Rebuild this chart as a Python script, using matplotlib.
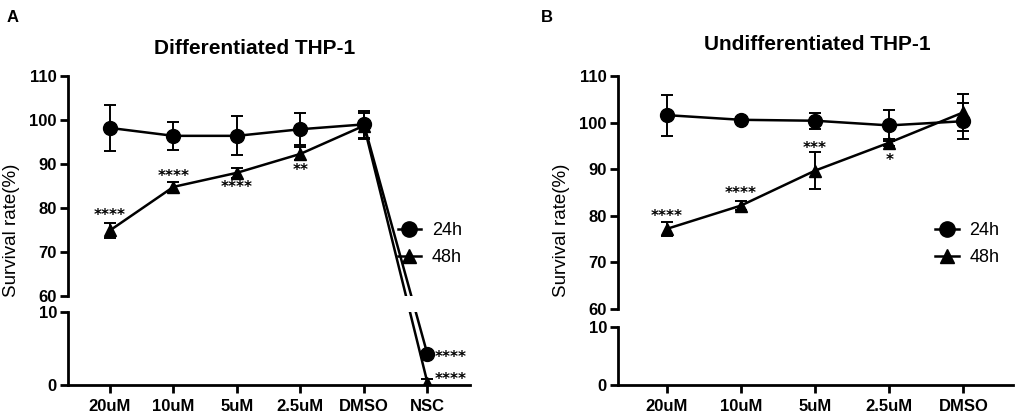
import matplotlib
matplotlib.use("Agg")
import matplotlib.pyplot as plt

plt.rcParams['font.family'] = ['Liberation Sans', 'DejaVu Sans']

# ---------------- data ----------------
cats_a = ["20uM", "10uM", "5uM", "2.5uM", "DMSO", "NSC"]
a24 = [98.2, 96.4, 96.4, 97.9, 99.0, 4.2]
a24_sd = [5.3, 3.2, 4.4, 3.6, 3.0, 0.3]
a48 = [74.9, 84.8, 88.0, 92.3, 98.7, 0.3]
a48_sd = [1.8, 1.2, 1.1, 1.5, 3.0, 0.5]
a_stars48 = ["****", "****", "****", "**", "", "****"]
a_stars24 = ["", "", "", "", "", "****"]

cats_b = ["20uM", "10uM", "5uM", "2.5uM", "DMSO"]
b24 = [101.6, 100.6, 100.4, 99.4, 100.3]
b24_sd = [4.4, 0.5, 1.7, 3.3, 3.8]
b48 = [77.2, 82.2, 89.7, 95.7, 102.2]
b48_sd = [1.5, 1.0, 4.0, 0.8, 3.9]
b_stars48 = ["****", "****", "***", "*", ""]

series_labels = ["24h", "48h"]
top_ticks = [60, 70, 80, 90, 100, 110]
bot_ticks = [0, 10]

W, H = 1021, 417
fig = plt.figure(figsize=(W / 100, H / 100), dpi=100)


def px_rect(l, r, t, b):
    return [l / W, 1 - b / H, (r - l) / W, (b - t) / H]


LW = 1.8
SLW = 2.0
TICKFS = 12


def style_axes(ax_top, ax_bot, cats):
    for ax in (ax_top, ax_bot):
        for s in ("top", "right"):
            ax.spines[s].set_visible(False)
        ax.spines["left"].set_linewidth(SLW)
        ax.tick_params(axis="y", width=SLW, length=6, labelsize=TICKFS, pad=2)
    ax_top.spines["bottom"].set_visible(False)
    ax_top.tick_params(axis="x", bottom=False, labelbottom=False)
    ax_bot.spines["bottom"].set_linewidth(SLW)
    ax_bot.tick_params(axis="x", width=SLW, length=6, labelsize=TICKFS, pad=4)
    ax_bot.set_xticks(range(len(cats)))
    ax_bot.set_xticklabels(cats, fontweight="bold")
    ax_top.set_yticks(top_ticks)
    ax_top.set_yticklabels([str(t) for t in top_ticks], fontweight="bold")
    ax_bot.set_yticks(bot_ticks)
    ax_bot.set_yticklabels([str(t) for t in bot_ticks], fontweight="bold")


def convert(v, src, dst, x):
    disp = src.transData.transform((x, v))
    return dst.transData.inverted().transform(disp)[1]


def draw_series(ax_top, ax_bot, vals, sds, marker, ms):
    xs = list(range(len(vals)))
    y_top, y_bot = [], []
    for x, v in zip(xs, vals):
        if v >= 60:
            y_top.append(v)
            y_bot.append(convert(v, ax_top, ax_bot, x))
        else:
            y_bot.append(v)
            y_top.append(convert(v, ax_bot, ax_top, x))
    for ax, ys in ((ax_top, y_top), (ax_bot, y_bot)):
        ax.plot(xs, ys, color="black", lw=LW, marker=marker, ms=ms,
                mfc="black", mec="black", zorder=3)
    for x, v, s in zip(xs, vals, sds):
        ax = ax_top if v >= 60 else ax_bot
        ax.errorbar([x], [v], yerr=[s], fmt="none", ecolor="black",
                    elinewidth=1.4, capsize=4.5, capthick=1.4, zorder=2)


def panel(cats, d24, s24, d48, s48, rect_top, rect_bot, title, title_xy,
          leg_anchor, ylab_x):
    ax_top = fig.add_axes(px_rect(*rect_top))
    ax_bot = fig.add_axes(px_rect(*rect_bot))
    n = len(cats)
    for ax in (ax_top, ax_bot):
        ax.set_xlim(-0.66, n - 1 + 0.67)
        ax.patch.set_alpha(0)
    ax_top.set_ylim(60, 110)
    ax_bot.set_ylim(0, 10)
    style_axes(ax_top, ax_bot, cats)
    draw_series(ax_top, ax_bot, d24, s24, "o", 10)
    draw_series(ax_top, ax_bot, d48, s48, "^", 9)
    h1, = ax_top.plot([], [], color="black", lw=LW, marker="o", ms=11)
    h2, = ax_top.plot([], [], color="black", lw=LW, marker="^", ms=10)
    ax_top.legend([h1, h2], series_labels, loc="center left",
                  bbox_to_anchor=leg_anchor, frameon=False, fontsize=13,
                  handlelength=1.3, handletextpad=0.6, labelspacing=0.55,
                  borderpad=0, borderaxespad=0)
    fig.text(title_xy[0] / W, 1 - title_xy[1] / H, title, ha="center",
             va="center", fontsize=15, fontweight="bold")
    fig.text(ylab_x / W, 1 - 230 / H, "Survival rate(%)", rotation=90,
             ha="center", va="center", fontsize=13.5)
    return ax_top, ax_bot


axA_t, axA_b = panel(cats_a, a24, a24_sd, a48, a48_sd,
                     (68, 470, 76, 296), (68, 470, 312, 385),
                     "Differentiated THP-1", (255, 48), (0.82, 0.236), 12)
axB_t, axB_b = panel(cats_b, b24, b24_sd, b48, b48_sd,
                     (618, 1013, 76, 309), (618, 1013, 327, 385),
                     "Undifferentiated THP-1", (817, 45), (0.803, 0.279), 562)

STARFS = 11
STARFAM = ["DejaVu Sans"]
# panel A annotations (visual centre of the asterisks)
a_star_pos = [78.3, 87.2, 84.6, 88.6]
for i, (st, yp) in enumerate(zip(a_stars48[:4], a_star_pos)):
    axA_t.text(i, yp, st, ha="center", va="center", fontsize=STARFS,
               fontweight="bold", family=STARFAM)
axA_b.text(5.12, 3.8, a_stars24[5], ha="left", va="center",
           fontsize=STARFS, fontweight="bold", family=STARFAM)
axA_b.text(5.12, 0.7, a_stars48[5], ha="left", va="center",
           fontsize=STARFS, fontweight="bold", family=STARFAM)

# panel B annotations
b_star_pos = [79.8, 84.7, 94.4, 91.8]
for i, (st, yp) in enumerate(zip(b_stars48[:4], b_star_pos)):
    axB_t.text(i, yp, st, ha="center", va="center", fontsize=STARFS,
               fontweight="bold", family=STARFAM)

fig.text(13 / W, 1 - 17 / H, "A", ha="center", va="center", fontsize=12,
         fontweight="bold")
fig.text(547 / W, 1 - 17 / H, "B", ha="center", va="center", fontsize=12,
         fontweight="bold")

fig.savefig("out.png", dpi=100)
